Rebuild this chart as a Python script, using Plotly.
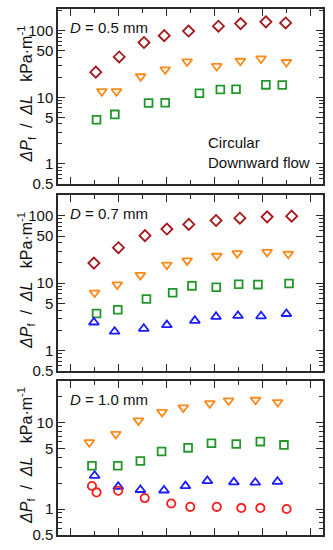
import plotly.graph_objects as go
import math

# ---------------- data (x in tick-position units, y in kPa/m) ----------------
# Panel D = 0.5 mm
p1_diamond_x = [1.07, 2.04, 3.07, 3.91, 4.92, 6.16, 7.08, 8.13, 8.95]
p1_diamond_y = [23.9, 40.4, 66.6, 84.4, 98.9, 117, 128, 136, 131]
p1_tri_dn_x = [1.32, 1.93, 2.93, 3.95, 4.86, 6.09, 7.07, 7.93, 8.98]
p1_tri_dn_y = [12.3, 12.3, 20.6, 26.2, 34.4, 29.4, 35.2, 38.1, 33.7]
p1_square_x = [1.10, 1.86, 3.26, 3.95, 5.37, 6.24, 6.89, 8.13, 8.81]
p1_square_y = [4.62, 5.55, 8.24, 8.3, 11.5, 13.1, 13.2, 15.4, 15.3]

# Panel D = 0.7 mm
p2_diamond_x = [0.99, 2.01, 3.11, 4.02, 4.93, 6.06, 7.05, 8.18, 9.20]
p2_diamond_y = [19.9, 33.7, 50.9, 63.8, 74.7, 85.4, 92.4, 96.7, 99]
p2_tri_dn_x = [1.02, 1.96, 2.92, 4.02, 4.86, 6.09, 6.94, 8.18, 9.06]
p2_tri_dn_y = [7.23, 9.55, 13.2, 18.8, 21.7, 25.4, 27.8, 29.0, 27.2]
p2_square_x = [1.10, 1.98, 3.17, 4.26, 5.06, 6.07, 7.00, 7.80, 9.09]
p2_square_y = [3.56, 4.03, 5.84, 7.23, 9.14, 8.73, 9.66, 9.55, 9.9]
p2_tri_up_x = [0.99, 1.85, 3.06, 4.02, 5.18, 6.06, 6.97, 7.93, 8.98]
p2_tri_up_y = [2.63, 1.92, 2.12, 2.40, 2.78, 3.18, 3.29, 3.25, 3.52]

# Panel D = 1.0 mm
p3_tri_dn_x = [0.80, 1.90, 2.84, 3.82, 4.70, 5.80, 6.58, 7.70, 8.62]
p3_tri_dn_y = [5.94, 7.41, 10.6, 13.3, 15.0, 16.8, 18.1, 18.4, 17.3]
p3_square_x = [0.91, 1.98, 2.92, 3.80, 4.90, 5.87, 6.90, 7.90, 8.88]
p3_square_y = [3.18, 3.18, 3.60, 4.64, 5.12, 5.78, 5.68, 6.05, 5.54]
p3_tri_up_x = [1.02, 2.00, 2.92, 3.90, 4.79, 5.70, 6.80, 7.69, 8.61]
p3_tri_up_y = [2.44, 1.82, 1.67, 1.65, 1.85, 2.12, 2.05, 2.03, 2.08]
p3_circle_x = [0.91, 1.10, 2.00, 3.10, 4.20, 4.99, 6.09, 7.11, 7.90, 8.99]
p3_circle_y = [1.85, 1.56, 1.63, 1.34, 1.16, 1.06, 1.06, 1.03, 1.03, 1.0]

panel_labels = ["0.5", "0.7", "1.0"]
y_tick_vals = [0.5, 1, 5, 10, 50, 100]
y_tick_text = ["0.5", "1", "5", "10", "50", "100"]
y_top = [212, 205, 30.7]

# ---------------- styling ----------------
C_DIAMOND = "#a5161c"
C_TRI_DN = "#ff8a1c"
C_SQUARE = "#23962b"
C_TRI_UP = "#1c1cff"
C_CIRCLE = "#ff1c1c"

FONT = "Liberation Sans, Arial, sans-serif"

fig = go.Figure()


def add(xs, ys, symbol, color, size, panel):
    fig.add_trace(go.Scatter(
        x=xs, y=ys, mode="markers",
        marker=dict(symbol=symbol + "-open", size=size, color=color,
                    line=dict(color=color, width=1.8)),
        xaxis="x" if panel == 1 else f"x{panel}",
        yaxis="y" if panel == 1 else f"y{panel}",
        showlegend=False,
    ))


S_DIA, S_TRI, S_SQ, S_CIR = 8.5, 8.8, 7.8, 8.3

add(p1_diamond_x, p1_diamond_y, "diamond", C_DIAMOND, S_DIA, 1)
add(p1_tri_dn_x, p1_tri_dn_y, "triangle-down", C_TRI_DN, S_TRI, 1)
add(p1_square_x, p1_square_y, "square", C_SQUARE, S_SQ, 1)

add(p2_diamond_x, p2_diamond_y, "diamond", C_DIAMOND, S_DIA, 2)
add(p2_tri_dn_x, p2_tri_dn_y, "triangle-down", C_TRI_DN, S_TRI, 2)
add(p2_square_x, p2_square_y, "square", C_SQUARE, S_SQ, 2)
add(p2_tri_up_x, p2_tri_up_y, "triangle-up", C_TRI_UP, S_TRI, 2)

add(p3_tri_dn_x, p3_tri_dn_y, "triangle-down", C_TRI_DN, S_TRI, 3)
add(p3_square_x, p3_square_y, "square", C_SQUARE, S_SQ, 3)
add(p3_tri_up_x, p3_tri_up_y, "triangle-up", C_TRI_UP, S_TRI, 3)
add(p3_circle_x, p3_circle_y, "circle", C_CIRCLE, S_CIR, 3)

W, H = 333, 550
ML, MR, MT, MB = 58, 10, 7, 11
PH = H - MT - MB
PW = W - ML - MR

# panel pixel extents (top, bottom)
panels_px = [(7, 184), (195, 373), (383, 539)]


def py2paper(py):
    return (H - MB - py) / PH


minor_vals = []
for dec in [0.1, 1, 10, 100, 1000]:
    for m in range(2, 10):
        minor_vals.append(m * dec)

line_col = "#2a2a2a"
layout = dict(
    width=W, height=H,
    margin=dict(l=ML, r=MR, t=MT, b=MB),
    paper_bgcolor="white", plot_bgcolor="white",
    font=dict(family=FONT, size=14, color="#111"),
)

for i in range(3):
    n = "" if i == 0 else str(i + 1)
    top, bot = panels_px[i]
    dom = [py2paper(bot), py2paper(top)]
    layout["xaxis" + n] = dict(
        domain=[0, 1], anchor="y" + n, range=[-0.5, 10.5],
        showline=True, linecolor=line_col, linewidth=1.5, mirror="ticks",
        ticks="inside", ticklen=7, tickwidth=1.2, tickcolor=line_col,
        tickmode="array", tickvals=[0, 2, 4, 6, 8, 10], showticklabels=False,
        minor=dict(ticks="inside", ticklen=4, tickwidth=1.2, tickcolor=line_col,
                   tickmode="array", tickvals=[1, 3, 5, 7, 9], showgrid=False),
        showgrid=False, zeroline=False,
    )
    layout["yaxis" + n] = dict(
        domain=dom, anchor="x" + n, type="log",
        range=[math.log10(0.5), math.log10(y_top[i])],
        showline=True, linecolor=line_col, linewidth=1.5, mirror="ticks",
        ticks="inside", ticklen=7, tickwidth=1.2, tickcolor=line_col,
        tickmode="array", tickvals=y_tick_vals, ticktext=y_tick_text,
        tickfont=dict(family=FONT, size=15, color="#111"),
        minor=dict(ticks="inside", ticklen=4, tickwidth=1.2, tickcolor=line_col,
                   tickmode="array", tickvals=minor_vals, showgrid=False),
        showgrid=False, zeroline=False,
    )

fig.update_layout(**layout)

NB = "&nbsp;"
ytitle = ("<i>ΔP</i><sub>f</sub>" + NB * 2 + "/" + NB * 2 + "<i>ΔL</i>" + NB * 3
          + "kPa·m<sup>-1</sup>")

annotations = []
for i in range(3):
    top, bot = panels_px[i]
    # y-axis title
    annotations.append(dict(
        xref="paper", yref="paper",
        x=(26 - ML) / PW, y=py2paper((top + bot) / 2 - 2),
        text=ytitle,
        textangle=-90, showarrow=False, xanchor="center", yanchor="middle",
        font=dict(family=FONT, size=16, color="#111"),
    ))
    # diameter label
    annotations.append(dict(
        xref="paper", yref="paper",
        x=(68 - ML) / PW, y=py2paper(top + 19),
        text=f"<i>D</i> = {panel_labels[i]} mm",
        showarrow=False, xanchor="left", yanchor="middle",
        font=dict(family=FONT, size=15, color="#111"),
    ))

annotations.append(dict(
    xref="paper", yref="paper",
    x=(206 - ML) / PW, y=py2paper(152),
    text="Circular<br>Downward flow", align="left",
    showarrow=False, xanchor="left", yanchor="middle",
    font=dict(family=FONT, size=15, color="#111"),
))

fig.update_layout(annotations=annotations)
fig.write_html(
    "out.html",
    config={"displayModeBar": False},
    post_script="document.body.style.margin='0';document.body.style.padding='0';",
)
